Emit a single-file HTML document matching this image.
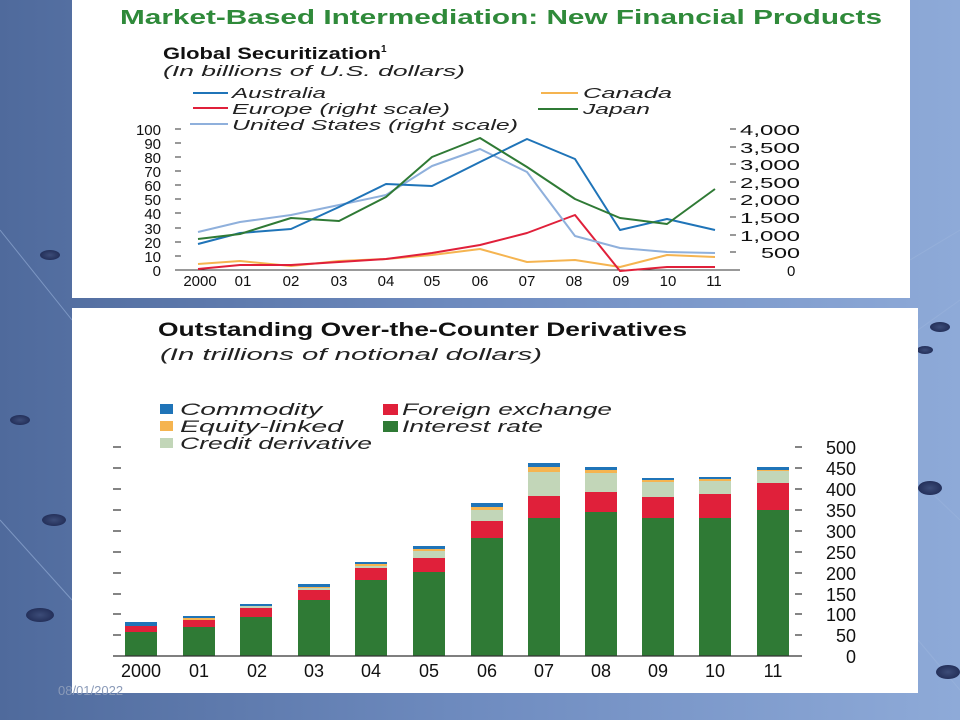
<!DOCTYPE html>
<html><head><meta charset="utf-8"><style>
html,body{margin:0;padding:0;width:960px;height:720px;overflow:hidden;}
body{background:linear-gradient(90deg,#4f6a9c 0%,#6f8cc0 50%,#8eaad8 100%);}
svg{position:absolute;left:0;top:0;}
text{font-family:"Liberation Sans",sans-serif;}
</style></head><body>
<svg width="960" height="720" viewBox="0 0 960 720">
<defs><radialGradient id="dot"><stop offset="0" stop-color="#3c4c78"/><stop offset="1" stop-color="#24305a"/></radialGradient></defs>
<g stroke="#9bb4dc" stroke-width="1" opacity="0.6">
<line x1="0" y1="230" x2="72" y2="320"/><line x1="0" y1="520" x2="72" y2="600"/>
<line x1="918" y1="330" x2="960" y2="300"/><line x1="918" y1="480" x2="960" y2="520"/>
<line x1="910" y1="260" x2="960" y2="230"/><line x1="918" y1="640" x2="960" y2="690"/>
</g>
<g fill="url(#dot)">
<ellipse cx="40" cy="615" rx="14" ry="7"/><ellipse cx="54" cy="520" rx="12" ry="6"/><ellipse cx="20" cy="420" rx="10" ry="5"/>
<ellipse cx="930" cy="488" rx="12" ry="7"/><ellipse cx="940" cy="327" rx="10" ry="5"/><ellipse cx="948" cy="672" rx="12" ry="7"/>
<ellipse cx="925" cy="350" rx="8" ry="4"/><ellipse cx="50" cy="255" rx="10" ry="5"/>
</g>
<!-- top panel -->
<rect x="72" y="0" width="838" height="298" fill="#fff"/>
<text x="120" y="24" font-size="20" font-weight="bold" fill="#2f8a3a" textLength="762" lengthAdjust="spacingAndGlyphs">Market-Based Intermediation: New Financial Products</text>
<text x="163" y="59" font-size="16.5" font-weight="bold" fill="#111"><tspan textLength="218" lengthAdjust="spacingAndGlyphs">Global Securitization</tspan><tspan font-size="10" dy="-7">1</tspan></text>
<text x="163" y="76" font-size="15" font-style="italic" fill="#222" textLength="302" lengthAdjust="spacingAndGlyphs">(In billions of U.S. dollars)</text>
<g font-size="14.5" font-style="italic" fill="#222">
<line x1="193" y1="93" x2="228" y2="93" stroke="#1f74b8" stroke-width="2"/><text x="232" y="98" textLength="94" lengthAdjust="spacingAndGlyphs">Australia</text>
<line x1="193" y1="108" x2="228" y2="108" stroke="#e0203a" stroke-width="2"/><text x="232" y="114" textLength="218" lengthAdjust="spacingAndGlyphs">Europe (right scale)</text>
<line x1="190" y1="124" x2="228" y2="124" stroke="#8fb0dc" stroke-width="2"/><text x="232" y="130" textLength="286" lengthAdjust="spacingAndGlyphs">United States (right scale)</text>
<line x1="541" y1="93" x2="578" y2="93" stroke="#f5b450" stroke-width="2"/><text x="583" y="98" textLength="89" lengthAdjust="spacingAndGlyphs">Canada</text>
<line x1="538" y1="109" x2="578" y2="109" stroke="#2f7a35" stroke-width="2"/><text x="583" y="114" textLength="67" lengthAdjust="spacingAndGlyphs">Japan</text>
</g>
<g font-size="15" fill="#111" text-anchor="end">
<text x="161" y="135">100</text><text x="161" y="149">90</text><text x="161" y="163">80</text><text x="161" y="177">70</text><text x="161" y="191">60</text><text x="161" y="205">50</text><text x="161" y="219">40</text><text x="161" y="234">30</text><text x="161" y="248">20</text><text x="161" y="262">10</text><text x="161" y="276">0</text>
</g>
<g stroke="#333" stroke-width="1">
<line x1="175" y1="129" x2="181" y2="129"/><line x1="175" y1="143" x2="181" y2="143"/><line x1="175" y1="157" x2="181" y2="157"/><line x1="175" y1="171" x2="181" y2="171"/><line x1="175" y1="185" x2="181" y2="185"/><line x1="175" y1="199" x2="181" y2="199"/><line x1="175" y1="213" x2="181" y2="213"/><line x1="175" y1="228" x2="181" y2="228"/><line x1="175" y1="242" x2="181" y2="242"/><line x1="175" y1="256" x2="181" y2="256"/>
<line x1="730" y1="129" x2="736" y2="129"/><line x1="730" y1="147" x2="736" y2="147"/><line x1="730" y1="164" x2="736" y2="164"/><line x1="730" y1="182" x2="736" y2="182"/><line x1="730" y1="199" x2="736" y2="199"/><line x1="730" y1="217" x2="736" y2="217"/><line x1="730" y1="235" x2="736" y2="235"/><line x1="730" y1="252" x2="736" y2="252"/>
<line x1="175" y1="270" x2="740" y2="270"/>
</g>
<g font-size="15" fill="#111">
<text x="740" y="135" textLength="60" lengthAdjust="spacingAndGlyphs">4,000</text><text x="740" y="153" textLength="60" lengthAdjust="spacingAndGlyphs">3,500</text><text x="740" y="170" textLength="60" lengthAdjust="spacingAndGlyphs">3,000</text><text x="740" y="188" textLength="60" lengthAdjust="spacingAndGlyphs">2,500</text><text x="740" y="205" textLength="60" lengthAdjust="spacingAndGlyphs">2,000</text><text x="740" y="223" textLength="60" lengthAdjust="spacingAndGlyphs">1,500</text><text x="740" y="241" textLength="60" lengthAdjust="spacingAndGlyphs">1,000</text><text x="761" y="258" textLength="39" lengthAdjust="spacingAndGlyphs">500</text><text x="787" y="276">0</text>
</g>
<g font-size="15" fill="#111" text-anchor="middle">
<text x="200" y="286">2000</text><text x="243" y="286">01</text><text x="291" y="286">02</text><text x="339" y="286">03</text><text x="386" y="286">04</text><text x="432" y="286">05</text><text x="480" y="286">06</text><text x="527" y="286">07</text><text x="574" y="286">08</text><text x="621" y="286">09</text><text x="668" y="286">10</text><text x="714" y="286">11</text>
</g>
<g fill="none" stroke-width="2" stroke-linejoin="round">
<polyline stroke="#f5b450" points="198,264 240,261 291,266 339,261 386,259 432,255 480,249 527,262 575,260 620,267 667,255 715,257"/>
<polyline stroke="#e0203a" points="198,269 240,265 291,265 339,262 386,259 432,253 480,245 527,233 575,215 620,271 667,267 715,267"/>
<polyline stroke="#8fb0dc" points="198,232 240,222 291,215 339,205 386,195 432,166 480,149 527,172 575,236 620,248 667,252 715,253"/>
<polyline stroke="#1f74b8" points="198,244 240,233 291,229 339,207 386,184 432,186 480,162 527,139 575,159 620,230 667,219 715,230"/>
<polyline stroke="#2f7a35" points="198,239 240,234 291,218 339,221 386,197 432,157 480,138 527,167 575,199 620,218 667,224 715,189"/>
</g>
<!-- bottom panel -->
<rect x="72" y="308" width="846" height="385" fill="#fff"/>
<text x="158" y="336" font-size="19" font-weight="bold" fill="#111" textLength="529" lengthAdjust="spacingAndGlyphs">Outstanding Over-the-Counter Derivatives</text>
<text x="160" y="360" font-size="17" font-style="italic" fill="#222" textLength="382" lengthAdjust="spacingAndGlyphs">(In trillions of notional dollars)</text>
<g font-size="17" font-style="italic" fill="#222">
<rect x="160" y="404" width="13" height="10" fill="#1f74b8"/><text x="180" y="415" textLength="142" lengthAdjust="spacingAndGlyphs">Commodity</text>
<rect x="160" y="421" width="13" height="10" fill="#f5b450"/><text x="180" y="432" textLength="163" lengthAdjust="spacingAndGlyphs">Equity-linked</text>
<rect x="160" y="438" width="13" height="10" fill="#c2d6b8"/><text x="180" y="449" textLength="192" lengthAdjust="spacingAndGlyphs">Credit derivative</text>
<rect x="383" y="404" width="15" height="11" fill="#e0203a"/><text x="402" y="415" textLength="210" lengthAdjust="spacingAndGlyphs">Foreign exchange</text>
<rect x="383" y="421" width="15" height="11" fill="#2f7a35"/><text x="402" y="432" textLength="141" lengthAdjust="spacingAndGlyphs">Interest rate</text>
</g>
<g stroke="#333" stroke-width="1.2">
<line x1="113" y1="447" x2="121" y2="447"/><line x1="113" y1="468" x2="121" y2="468"/><line x1="113" y1="489" x2="121" y2="489"/><line x1="113" y1="510" x2="121" y2="510"/><line x1="113" y1="531" x2="121" y2="531"/><line x1="113" y1="552" x2="121" y2="552"/><line x1="113" y1="573" x2="121" y2="573"/><line x1="113" y1="594" x2="121" y2="594"/><line x1="113" y1="614" x2="121" y2="614"/><line x1="113" y1="635" x2="121" y2="635"/>
<line x1="795" y1="447" x2="802" y2="447"/><line x1="795" y1="468" x2="802" y2="468"/><line x1="795" y1="489" x2="802" y2="489"/><line x1="795" y1="510" x2="802" y2="510"/><line x1="795" y1="531" x2="802" y2="531"/><line x1="795" y1="552" x2="802" y2="552"/><line x1="795" y1="573" x2="802" y2="573"/><line x1="795" y1="594" x2="802" y2="594"/><line x1="795" y1="614" x2="802" y2="614"/><line x1="795" y1="635" x2="802" y2="635"/>
</g>
<g font-size="18" fill="#111" text-anchor="end">
<text x="856" y="454">500</text><text x="856" y="475">450</text><text x="856" y="496">400</text><text x="856" y="517">350</text><text x="856" y="538">300</text><text x="856" y="559">250</text><text x="856" y="580">200</text><text x="856" y="601">150</text><text x="856" y="621">100</text><text x="856" y="642">50</text><text x="856" y="663">0</text>
</g>
<g>
<rect x="125" y="632" width="32" height="24" fill="#2f7a35"/><rect x="125" y="626" width="32" height="6" fill="#e0203a"/><rect x="125" y="622" width="32" height="4" fill="#1f74b8"/>
<rect x="183" y="627" width="32" height="29" fill="#2f7a35"/><rect x="183" y="620" width="32" height="7" fill="#e0203a"/><rect x="183" y="618" width="32" height="2" fill="#f5b450"/><rect x="183" y="616" width="32" height="2" fill="#1f74b8"/>
<rect x="240" y="617" width="32" height="39" fill="#2f7a35"/><rect x="240" y="608" width="32" height="9" fill="#e0203a"/><rect x="240" y="606" width="32" height="2" fill="#c2d6b8"/><rect x="240" y="604" width="32" height="2" fill="#1f74b8"/>
<rect x="298" y="600" width="32" height="56" fill="#2f7a35"/><rect x="298" y="590" width="32" height="10" fill="#e0203a"/><rect x="298" y="588" width="32" height="2" fill="#c2d6b8"/><rect x="298" y="587" width="32" height="1" fill="#f5b450"/><rect x="298" y="584" width="32" height="3" fill="#1f74b8"/>
<rect x="355" y="580" width="32" height="76" fill="#2f7a35"/><rect x="355" y="568" width="32" height="12" fill="#e0203a"/><rect x="355" y="566" width="32" height="2" fill="#c2d6b8"/><rect x="355" y="564" width="32" height="2" fill="#f5b450"/><rect x="355" y="562" width="32" height="2" fill="#1f74b8"/>
<rect x="413" y="572" width="32" height="84" fill="#2f7a35"/><rect x="413" y="558" width="32" height="14" fill="#e0203a"/><rect x="413" y="551" width="32" height="7" fill="#c2d6b8"/><rect x="413" y="549" width="32" height="2" fill="#f5b450"/><rect x="413" y="546" width="32" height="3" fill="#1f74b8"/>
<rect x="471" y="538" width="32" height="118" fill="#2f7a35"/><rect x="471" y="521" width="32" height="17" fill="#e0203a"/><rect x="471" y="510" width="32" height="11" fill="#c2d6b8"/><rect x="471" y="507" width="32" height="3" fill="#f5b450"/><rect x="471" y="503" width="32" height="4" fill="#1f74b8"/>
<rect x="528" y="518" width="32" height="138" fill="#2f7a35"/><rect x="528" y="496" width="32" height="22" fill="#e0203a"/><rect x="528" y="472" width="32" height="24" fill="#c2d6b8"/><rect x="528" y="467" width="32" height="5" fill="#f5b450"/><rect x="528" y="463" width="32" height="4" fill="#1f74b8"/>
<rect x="585" y="512" width="32" height="144" fill="#2f7a35"/><rect x="585" y="492" width="32" height="20" fill="#e0203a"/><rect x="585" y="473" width="32" height="19" fill="#c2d6b8"/><rect x="585" y="470" width="32" height="3" fill="#f5b450"/><rect x="585" y="467" width="32" height="3" fill="#1f74b8"/>
<rect x="642" y="518" width="32" height="138" fill="#2f7a35"/><rect x="642" y="497" width="32" height="21" fill="#e0203a"/><rect x="642" y="482" width="32" height="15" fill="#c2d6b8"/><rect x="642" y="480" width="32" height="2" fill="#f5b450"/><rect x="642" y="478" width="32" height="2" fill="#1f74b8"/>
<rect x="699" y="518" width="32" height="138" fill="#2f7a35"/><rect x="699" y="494" width="32" height="24" fill="#e0203a"/><rect x="699" y="481" width="32" height="13" fill="#c2d6b8"/><rect x="699" y="479" width="32" height="2" fill="#f5b450"/><rect x="699" y="477" width="32" height="2" fill="#1f74b8"/>
<rect x="757" y="510" width="32" height="146" fill="#2f7a35"/><rect x="757" y="483" width="32" height="27" fill="#e0203a"/><rect x="757" y="471" width="32" height="12" fill="#c2d6b8"/><rect x="757" y="470" width="32" height="1" fill="#f5b450"/><rect x="757" y="467" width="32" height="3" fill="#1f74b8"/>
</g>
<line x1="113" y1="656" x2="802" y2="656" stroke="#333" stroke-width="1.2"/>
<g font-size="18" fill="#111" text-anchor="middle">
<text x="141" y="677">2000</text><text x="199" y="677">01</text><text x="257" y="677">02</text><text x="314" y="677">03</text><text x="371" y="677">04</text><text x="429" y="677">05</text><text x="487" y="677">06</text><text x="544" y="677">07</text><text x="601" y="677">08</text><text x="658" y="677">09</text><text x="715" y="677">10</text><text x="773" y="677">11</text>
</g>
<text x="58" y="695" font-size="13" fill="#8a9ab8">08/01/2022</text>
</svg>
</body></html>
